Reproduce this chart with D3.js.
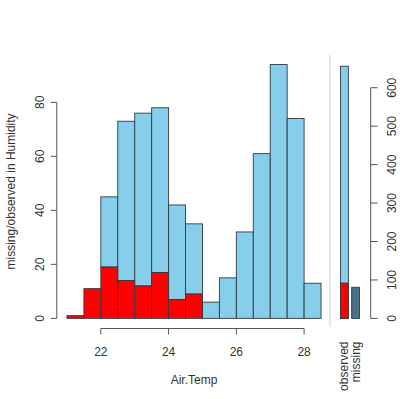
<!DOCTYPE html>
<html>
<head>
<meta charset="utf-8">
<script src="https://cdn.jsdelivr.net/npm/d3@7"></script>
<style>
  html, body { margin: 0; padding: 0; background: #fff; }
  text { font-family: "Liberation Sans", Arial, sans-serif; fill: #333; }
</style>
</head>
<body>
<div id="chart"></div>
<script>
// histogram bins of Air.Temp (left edges, width 0.5)
const binStarts = [21, 21.5, 22, 22.5, 23, 23.5, 24, 24.5, 25, 25.5, 26, 26.5, 27, 27.5, 28];
const binWidth = 0.5;
// counts where Humidity is missing / observed
const missingCounts = [1, 11, 19, 14, 12, 17, 7, 9, 0, 0, 0, 0, 0, 0, 0];
const observedCounts = [0, 0, 26, 59, 64, 61, 35, 26, 6, 15, 32, 61, 94, 74, 13];
const xTicks = [22, 24, 26, 28];
const yTicks = [0, 20, 40, 60, 80];

// right margin panel
const marginCategories = ['observed', 'missing'];
const marginTotals = [656, 81];
const marginMissing = [92, 0];
const marginTicks = [0, 100, 200, 300, 400, 500, 600];

const width = 400, height = 399;
const skyblue = '#87ceeb', red = '#ff0000', darkblue = '#4a708b', border = '#2f3a40';

const svg = d3.select('#chart')
  .append('svg')
  .attr('width', width)
  .attr('height', height);

// main plot region
const totals = binStarts.map((_, i) => missingCounts[i] + observedCounts[i]);
const xMin = binStarts[0], xMax = binStarts[binStarts.length - 1] + binWidth;
const yMax = d3.max(totals);
const xPad = (xMax - xMin) * 0.04, yPad = yMax * 0.04;

const x = d3.scaleLinear()
  .domain([xMin - xPad, xMax + xPad])
  .range([56.8, 331.2]);

const y = d3.scaleLinear()
  .domain([-yPad, yMax + yPad])
  .range([328.5, 54.4]);

const bins = binStarts.map((s, i) => ({ s, miss: missingCounts[i], obs: observedCounts[i] }));

svg.append('g').selectAll('rect.obs')
  .data(bins.filter(d => d.obs > 0))
  .enter()
  .append('rect')
  .attr('x', d => x(d.s))
  .attr('width', d => x(d.s + binWidth) - x(d.s))
  .attr('y', d => y(d.miss + d.obs))
  .attr('height', d => y(d.miss) - y(d.miss + d.obs))
  .attr('fill', skyblue)
  .attr('stroke', border)
  .attr('stroke-width', 0.9);

svg.append('g').selectAll('rect.miss')
  .data(bins.filter(d => d.miss > 0))
  .enter()
  .append('rect')
  .attr('x', d => x(d.s))
  .attr('width', d => x(d.s + binWidth) - x(d.s))
  .attr('y', d => y(d.miss))
  .attr('height', d => y(0) - y(d.miss))
  .attr('fill', red)
  .attr('stroke', border)
  .attr('stroke-width', 0.9);

// x axis
const xAxisY = 328.5;
svg.append('line')
  .attr('x1', x(xTicks[0])).attr('x2', x(xTicks[xTicks.length - 1]))
  .attr('y1', xAxisY).attr('y2', xAxisY)
  .attr('stroke', '#555');
svg.append('g').selectAll('line')
  .data(xTicks)
  .enter()
  .append('line')
  .attr('x1', d => x(d)).attr('x2', d => x(d))
  .attr('y1', xAxisY).attr('y2', xAxisY + 6)
  .attr('stroke', '#555');
svg.append('g').selectAll('text')
  .data(xTicks)
  .enter()
  .append('text')
  .attr('x', d => x(d))
  .attr('y', 356)
  .attr('text-anchor', 'middle')
  .attr('font-size', 12)
  .text(d => d);
svg.append('text')
  .attr('x', (x.range()[0] + x.range()[1]) / 2)
  .attr('y', 383.5)
  .attr('text-anchor', 'middle')
  .attr('font-size', 12)
  .text('Air.Temp');

// y axis (left)
const yAxisX = 56.8;
svg.append('line')
  .attr('x1', yAxisX).attr('x2', yAxisX)
  .attr('y1', y(yTicks[0])).attr('y2', y(yTicks[yTicks.length - 1]))
  .attr('stroke', '#555');
svg.append('g').selectAll('line')
  .data(yTicks)
  .enter()
  .append('line')
  .attr('x1', yAxisX - 6).attr('x2', yAxisX)
  .attr('y1', d => y(d)).attr('y2', d => y(d))
  .attr('stroke', '#555');
svg.append('g').selectAll('text')
  .data(yTicks)
  .enter()
  .append('text')
  .attr('transform', d => `translate(43.5, ${y(d)}) rotate(-90)`)
  .attr('text-anchor', 'middle')
  .attr('font-size', 12)
  .text(d => d);
svg.append('text')
  .attr('transform', `translate(15, ${(y.range()[0] + y.range()[1]) / 2}) rotate(-90)`)
  .attr('text-anchor', 'middle')
  .attr('font-size', 12)
  .text('missing/observed in Humidity');

// separator
svg.append('line')
  .attr('x1', 330).attr('x2', 330)
  .attr('y1', 55).attr('y2', 327)
  .attr('stroke', '#e2e2e2')
  .attr('stroke-width', 1.5);

// margin panel
const mMax = d3.max(marginTotals);
const my = d3.scaleLinear()
  .domain([-mMax * 0.04, mMax * 1.04])
  .range([328.5, 56.1]);
const mx = d3.scaleBand()
  .domain(marginCategories)
  .range([340.5, 359.5])
  .paddingInner(0.3);

const mData = marginCategories.map((c, i) => ({ c, total: marginTotals[i], miss: marginMissing[i] }));

svg.append('g').selectAll('rect')
  .data(mData)
  .enter()
  .append('rect')
  .attr('x', d => mx(d.c))
  .attr('width', mx.bandwidth())
  .attr('y', d => my(d.total))
  .attr('height', d => my(0) - my(d.total))
  .attr('fill', (d, i) => i === 0 ? skyblue : darkblue)
  .attr('stroke', border)
  .attr('stroke-width', 0.9);

svg.append('g').selectAll('rect')
  .data(mData.filter(d => d.miss > 0))
  .enter()
  .append('rect')
  .attr('x', d => mx(d.c))
  .attr('width', mx.bandwidth())
  .attr('y', d => my(d.miss))
  .attr('height', d => my(0) - my(d.miss))
  .attr('fill', red)
  .attr('stroke', border)
  .attr('stroke-width', 0.9);

svg.append('g').selectAll('text')
  .data(marginCategories)
  .enter()
  .append('text')
  .attr('transform', d => `translate(${mx(d) + mx.bandwidth() / 2 + 4}, 341.5) rotate(-90)`)
  .attr('text-anchor', 'end')
  .attr('font-size', 12)
  .text(d => d);

// right axis
const rAxisX = 370.7;
svg.append('line')
  .attr('x1', rAxisX).attr('x2', rAxisX)
  .attr('y1', my(marginTicks[0])).attr('y2', my(marginTicks[marginTicks.length - 1]))
  .attr('stroke', '#555');
svg.append('g').selectAll('line')
  .data(marginTicks)
  .enter()
  .append('line')
  .attr('x1', rAxisX).attr('x2', rAxisX + 7)
  .attr('y1', d => my(d)).attr('y2', d => my(d))
  .attr('stroke', '#555');
svg.append('g').selectAll('text')
  .data(marginTicks)
  .enter()
  .append('text')
  .attr('transform', d => `translate(396, ${my(d)}) rotate(-90)`)
  .attr('text-anchor', 'middle')
  .attr('font-size', 12)
  .text(d => d);
</script>
</body>
</html>
